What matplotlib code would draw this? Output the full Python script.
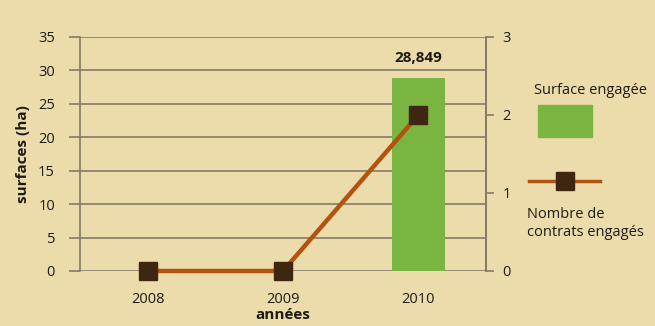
import numpy as np
import matplotlib.pyplot as plt
from matplotlib.patches import Rectangle
from matplotlib.lines import Line2D

plt.rcParams['font.family'] = ['Open Sans', 'DejaVu Sans']

years = ["2008", "2009", "2010"]
surfaces = [0, 0, 28.849]
contrats = [0, 0, 2]
surface_label = "28,849"

bg = "#ecdcab"
green = "#7ab541"
orange = "#b4520f"
brown = "#3f2610"
grid_c = "#857a68"
text_c = "#1e1a14"
fs = 10.5

fig = plt.figure(figsize=(6.55, 3.26), dpi=100, facecolor=bg)
ax = fig.add_axes([80 / 655, 55 / 326, 406 / 655, 234 / 326])
ax.set_facecolor(bg)

x = np.arange(len(years))
ax.bar(x[2:], surfaces[2:], width=0.39, color=green, zorder=2)
ax.text(x[2], surfaces[2] + 2.0, surface_label, ha="center", va="bottom",
        fontsize=11, fontweight="bold", color=text_c)

ax.set_xlim(-0.5, 2.5)
ax.set_ylim(0, 35)
ax.set_yticks(np.arange(0, 36, 5))
ax.set_xticks(x)
ax.set_xticklabels(years)
ax.yaxis.grid(True, color=grid_c, linewidth=1.2, zorder=0)
ax.set_axisbelow(True)
for s in ["top", "bottom"]:
    ax.spines[s].set_visible(False)
for s in ["left", "right"]:
    ax.spines[s].set_color(grid_c)
    ax.spines[s].set_linewidth(1.2)
ax.tick_params(axis="y", length=8, color=grid_c, width=1.2, labelsize=fs,
               labelcolor=text_c, pad=10)
ax.tick_params(axis="x", length=0, labelsize=fs, labelcolor=text_c, pad=15)
ax.set_ylabel("surfaces (ha)", fontsize=11, fontweight="bold", color=text_c, labelpad=6)
ax.set_xlabel("années", fontsize=11, fontweight="bold", color=text_c, labelpad=1)

ax2 = ax.twinx()
ax2.set_ylim(0, 3)
ax2.set_yticks([0, 1, 2, 3])
ax2.plot(x, contrats, color=orange, linewidth=3.2, marker="s", markersize=13.5,
         markerfacecolor=brown, markeredgecolor=brown, zorder=3, clip_on=False)
for s in ["top", "bottom", "left"]:
    ax2.spines[s].set_visible(False)
ax2.spines["right"].set_color(grid_c)
ax2.spines["right"].set_linewidth(1.2)
ax2.tick_params(axis="y", length=6, color=grid_c, width=1.2, labelsize=fs,
                labelcolor=text_c, pad=6)

# legend drawn by hand on the right side
fig.text(534 / 655, 1 - 90 / 326, "Surface engagée", fontsize=fs, color=text_c,
         ha="left", va="center")
fig.patches.append(Rectangle((538 / 655, 1 - 137 / 326), 54 / 655, 32 / 326,
                             transform=fig.transFigure, color=green))
fig.lines.append(Line2D([529 / 655, 600 / 655], [1 - 181 / 326] * 2,
                        transform=fig.transFigure, color=orange, linewidth=2.5))
fig.lines.append(Line2D([565 / 655], [1 - 181 / 326], transform=fig.transFigure,
                        marker="s", markersize=13, color=brown, linestyle="none"))
fig.text(527 / 655, 1 - 215 / 326, "Nombre de", fontsize=fs, color=text_c,
         ha="left", va="center")
fig.text(527 / 655, 1 - 233 / 326, "contrats engagés", fontsize=fs, color=text_c,
         ha="left", va="center")

fig.savefig("out.png", dpi=100, facecolor=bg)
